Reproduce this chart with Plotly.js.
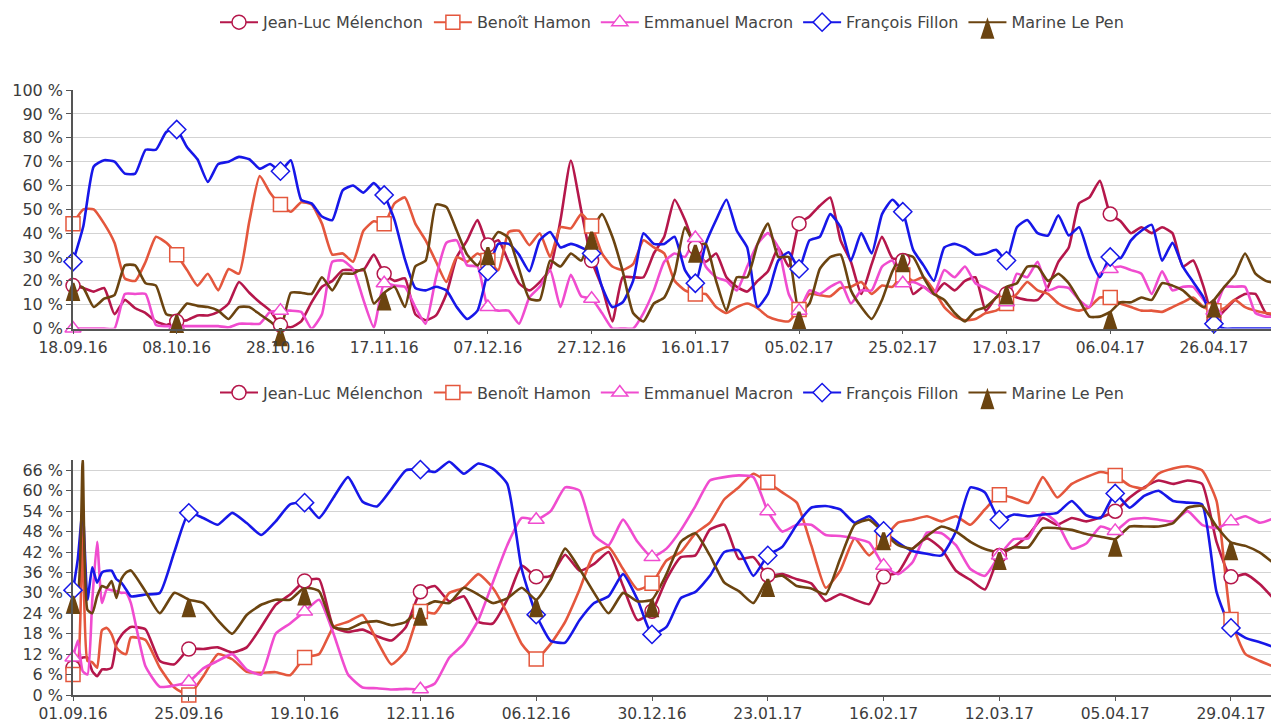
<!DOCTYPE html>
<html><head><meta charset="utf-8">
<script src="https://cdn.plot.ly/plotly-3.0.1.min.js"></script>
<style>html,body{margin:0;padding:0;background:#fff}#chart{width:1271px;height:723px}</style>
</head><body><div id="chart"></div>
<script>
const candidates = ["Jean-Luc Mélenchon","Benoît Hamon","Emmanuel Macron","François Fillon","Marine Le Pen"];
const colors = ["#b5174b","#e4573d","#f04ccf","#1717e8","#6b4410"];
const symbols = ["circle","square","triangle-up","diamond","arrow"];

// ---- top chart (from 18.09.16, every 2 days) ----
const topStart = "2016-09-18";
const topMelenchon = [18,17,15.5,17,6,12,8.5,6.5,3,1.5,3,3.5,5.5,5.5,7,10.5,19.5,15,11,7.5,1.5,0.5,3,
 11,17.5,20,24.5,24.5,24.5,31,23,20,21,6,3.5,5.5,14.5,30,37,45.5,35,37,28,19,16,19.5,25,
 45.5,70.5,49.5,28.5,17.5,3,21.5,21.5,21.5,31.5,38.5,54,45.5,34,28,31.5,21.5,17.5,15.5,20,24,34,26,
 44,47,51.5,55,37,28,14.5,27,38.5,29.5,28.5,14.5,17.5,14.5,19,16,20,21.5,7.5,13,14.5,13,12,
 12,17.5,28,34,52.5,55,62,48,45,40,42.5,40,42.5,40,26,28.5,17.5,3.5,7.5,12,14.5,14.5,6.5,5.5];
const topHamon = [44,50,50,44,36,21,20,28,38.5,36,31,24.5,18,23,16,25,23,45,64,57,52,49,53,
 52,44,31,31.5,28,41,45,44,52.5,55,44,37,28,19.5,30,28,31.5,28.5,24.5,40.5,41,35,40,30,
 42.5,42,48,43,31.5,26,24.5,27,37,34,31.5,20,16,14.5,14.5,9,6.5,9,10.5,8.5,5,3.5,3,
 8,14.5,14,13.5,17,17.5,19.5,14.5,18,17.5,22.5,20,21.5,16,9,5,3.5,4,6.5,7.5,10.5,14.5,19.5,
 16,14.5,10.5,8.5,7.5,9,13,13,10.5,9,7.5,7.5,7,9,11,13,9,7.5,8.5,12,9,7.5,6.5,6];
const topMacron = [0,0,0,0,0,14.5,14.5,14.5,1.5,1,1,1,1,1,1,0.5,2,2,2,7,7.5,7.5,7,
 0,6,28,28.5,25,12,0.5,19,18,17.5,9,2,21.5,36,37,26.5,26,9,7.5,7.5,2,13,17.5,24.5,
 9,22.5,13.5,12.5,6.5,0,0,0,6.5,16,28,31.5,30,38,26,21.5,20,16,26,35.5,40,34,14.5,
 7.5,16,14.5,17.5,19.5,10.5,16,16,26,28.5,19,19.5,17.5,14.5,24.5,21.5,26,19,17,14.5,11,23,21.5,
 28,16,17.5,17,12,9,23,25,26,24.5,23,14.5,24,16,17.5,17.5,12,7.5,17.5,17.5,17.5,6.5,5,5];
const topFillon = [28,43,68,70.6,70,65,65,75,75,82.5,83.5,76,71,61.5,69,70,72,71,67,69,66,70.6,54,
 52.5,47,45.5,58,60,57,61,56,45.5,29,17,16,17.5,16,9,4,7.5,24,35.5,35.5,31,24,37,40.5,
 34,35.5,34,31.5,17.5,9,11,20,40,35.5,35.5,38.5,24.5,19,35.5,45.5,54,41,34,9,14.5,28.5,32,
 25,37,38.5,48,42.5,28.5,40,31.5,48,54,49,33,26.5,20,34,35.5,34,31,31.5,33,28.5,42.5,45.5,
 40,39,47.5,39,42.5,30,21.5,30,29.5,37,41,43.5,28.5,36,26,19.5,13,2,0,0,0,0,0,0];
const topLePen = [19,17,9,12.5,14,26.5,26.5,19,18,6,5.5,10.5,9.5,9,7.5,4,9,9,6,3,0,15,15,
 14.5,21.5,16,23,23,25,10.5,15,17.5,9,26,28.5,52,51,41,31,26.5,34,40.5,38,25,12.5,12,28.5,
 26,31.5,28.5,40.5,48,38.5,24,6.5,3,10.5,13,23,42.5,35,35.5,20,7.5,21.5,21.5,35.5,44,30,30,
 7,10.5,25,30,31,16,9,4,12,24,31,30,21.5,14.5,12,6.5,3,7.5,9,13,17.5,19,26,
 26,20,23,19,12,5,5,7,11,11,13,12,19,18,16,12,9,12,17.5,22.5,31.5,23,20,19];

// ---- bottom chart (from 01.09.16, daily for 12 days, then every 3 days) ----
const botStart = "2016-09-01";
const botMelenchon = [8,10,11,11,7,5.5,7.5,7.5,8,15,17.5,19,20,
 19.3,10,9,13.5,13.5,14,12.5,14,20,26.5,29.5,33.5,
 34,20,18.5,19.2,17.3,16,20,30.3,32,27.5,29,21.5,21,28,38,34.7,35,
 41.2,36.5,38.5,42,32,22,24.6,34,40.5,41,48.6,50,40,40.5,35.2,35.5,34,
 32.8,27.6,29.6,28,26.7,34.7,36,42.9,46,42.9,36.5,33.8,31,41,43.5,47,
 52,50,52,51,52.2,54,58,61,63,62,63,62,45,34.7,35.5,32.5,28];
const botHamon = [6,8,50,10,9.6,8,19,19.7,17.8,14,12.5,12,16.9,
 16.2,8,2.2,0,5.5,12,10.5,6.8,6.5,6.7,5.8,11,
 12,20,21.5,23.5,16,9,13,24.5,24,30,31.5,35.5,31.5,24,15,10.6,15,
 21.5,31,41.5,43.5,37,31,32.8,39.5,42,47.5,50.6,57.5,61,65,62.5,59.5,56.5,
 44,31.5,36.5,46,41,45.8,50.6,51.5,52.5,51,52.5,50,54.5,58.8,57.8,56.4,
 64,58,62,64,65.5,64.5,61.5,60.7,65,66.5,67.2,66,57,22.2,12,10,8.2];
const botMacron = [11,16,7,6,28,45,27,31,30.8,30.5,30,30,27,
 8.5,2.4,2.8,3.9,7.8,10,12,7.5,6,18,21,24.5,
 28,18,6,2.2,2,1.6,1.8,1.7,3.4,11,15,22,33,44,52,51.5,54,
 61,60,47,44,51.5,45,40.5,43,48.5,55.5,63,64,64.5,64,54,48,50,
 50,47,46.7,46,44.8,38,35.5,39,47.7,47.5,44,37,35,41,45.8,46,
 53.5,50.5,43,44.5,49.5,48.2,51.5,52,51.5,51,54,50,49,51,52.5,50.6,52];
const botFillon = [30.8,40,54.4,28,37.5,33,36,36.5,36.5,34,33,31,29,
 29.5,30,42,53.5,52,50,53.5,50.5,47,51,56,56.5,
 52,58,64,56.8,55.4,60.5,66,66.2,65.5,68.5,65,68,66.5,62,37,23.6,15.9,
 15.4,22,27,29,35.5,28,17.8,20,28.5,30.3,35,42,42.5,35,41,43.5,50,
 55,55.5,54.5,50.6,52.5,48.2,44.8,42.3,41.5,41,48,61,59.5,51.5,53,52.5,
 53,53.5,57,52.8,52,59.2,55,58.5,60,57,56.5,56,30.3,19.7,16.8,15.5,14];
const botLePen = [29,30,69,25,24,29,32,31.5,33.5,28.5,34,36,36.6,
 30.5,24,30,28,27,22,18,23.5,26.5,28,28,31.5,
 30.5,20,19.3,21.2,21.7,20.5,21.5,25.5,27.5,27,31.5,29.5,27,28.4,31.5,28,34,
 43,37,30,24,30,27.5,28,35.5,45,47.5,41,33,30.5,27,34,35,32,
 31.3,29.6,40,50,51.5,47.7,44,43,46.7,49.5,48,45,42.9,41.9,43.4,43.4,
 49,49,48.5,47.3,46.5,45.8,49.5,49.5,49.5,50.5,55,55.5,49.5,44.8,43.8,41.8,38.5];

// day offsets of the samples
const topDays = []; for (let d = 0; d <= 232; d += 2) topDays.push(d);
const botDays = []; for (let d = 0; d <= 12; d++) botDays.push(d); for (let d = 15; d <= 249; d += 3) botDays.push(d);

function dateOf(start, d) {
  const t = new Date(start + "T00:00:00Z").getTime() + d * 86400000;
  return new Date(t).toISOString().slice(0, 10);
}
const topX = topDays.map(d => dateOf(topStart, d));
const botX = botDays.map(d => dateOf(botStart, d));

const topSeries = [topMelenchon, topHamon, topMacron, topFillon, topLePen];
const botSeries = [botMelenchon, botHamon, botMacron, botFillon, botLePen];

const topTickStep = 20, botTickStep = 24;
const FONT = "DejaVu Sans";

function markerStyle(i) {
  const filled = i === 4;
  return {
    symbol: symbols[i],
    size: filled ? 17 : 14,
    color: filled ? colors[i] : "#ffffff",
    line: {color: colors[i], width: filled ? 3 : 1.5}
  };
}

const traces = [];
function addChart(xs, days, series, step, xa, ya, legendId) {
  series.forEach((ys, i) => {
    traces.push({x: xs, y: ys, xaxis: xa, yaxis: ya, mode: "lines", type: "scatter",
      line: {color: colors[i], width: 2.6, shape: "spline", smoothing: 0.5},
      showlegend: false, hoverinfo: "skip", legend: legendId});
  });
  series.forEach((ys, i) => {
    const mx = [], my = [];
    days.forEach((d, k) => { if (d % step === 0 && d <= days[days.length - 1] - 3) { mx.push(xs[k], xs[k]); my.push(ys[k], null); } });
    traces.push({x: mx, y: my, xaxis: xa, yaxis: ya, mode: "lines+markers", type: "scatter",
      name: candidates[i], line: {color: colors[i], width: 2}, marker: markerStyle(i),
      cliponaxis: false, connectgaps: false, legend: legendId});
  });
}
addChart(topX, topDays, topSeries, topTickStep, "x", "y", "legend");
addChart(botX, botDays, botSeries, botTickStep, "x2", "y2", "legend2");

const axisCommon = {
  showline: true, linecolor: "#555", linewidth: 1.5, ticks: "outside", ticklen: 5, tickcolor: "#555",
  tickfont: {family: FONT, size: 16, color: "#3c3c3c"}, zeroline: false
};
const xTickFont = {family: FONT, size: 15.5, color: "#3c3c3c"};
const legendCommon = {orientation: "h", x: 0.5, xanchor: "center", yanchor: "middle", itemwidth: 38,
  font: {family: FONT, size: 16, color: "#444"}, bgcolor: "rgba(0,0,0,0)"};

const layout = {
  width: 1271, height: 723,
  margin: {l: 73, r: 0, t: 0, b: 28},
  paper_bgcolor: "#fff", plot_bgcolor: "#fff",
  font: {family: FONT, color: "#444"},
  xaxis: Object.assign({}, axisCommon, {type: "date", domain: [0, 1], anchor: "y",
    range: ["2016-09-18", "2017-05-07"], tick0: "2016-09-18", dtick: topTickStep * 86400000,
    tickformat: "%d.%m.%y", showgrid: false, ticklen: 4, tickfont: xTickFont}),
  yaxis: Object.assign({}, axisCommon, {domain: [0.5273, 0.8703], anchor: "x", range: [0, 100],
    dtick: 10, ticksuffix: " %", showgrid: true, gridcolor: "#d3d3d3", gridwidth: 1.3}),
  xaxis2: Object.assign({}, axisCommon, {type: "date", domain: [0, 1], anchor: "y2",
    range: ["2016-09-01", "2017-05-07 07:00"], tick0: "2016-09-01", dtick: botTickStep * 86400000,
    tickformat: "%d.%m.%y", showgrid: false, ticklen: 4, tickfont: xTickFont}),
  yaxis2: Object.assign({}, axisCommon, {domain: [0, 0.338], anchor: "x2", range: [0, 69],
    dtick: 6, ticksuffix: " %", showgrid: true, gridcolor: "#d3d3d3", gridwidth: 1.3}),
  legend: Object.assign({}, legendCommon, {y: 0.968}),
  legend2: Object.assign({}, legendCommon, {y: 0.435})
};

Plotly.newPlot("chart", traces, layout, {displayModeBar: false, responsive: false});
</script>
</body></html>
